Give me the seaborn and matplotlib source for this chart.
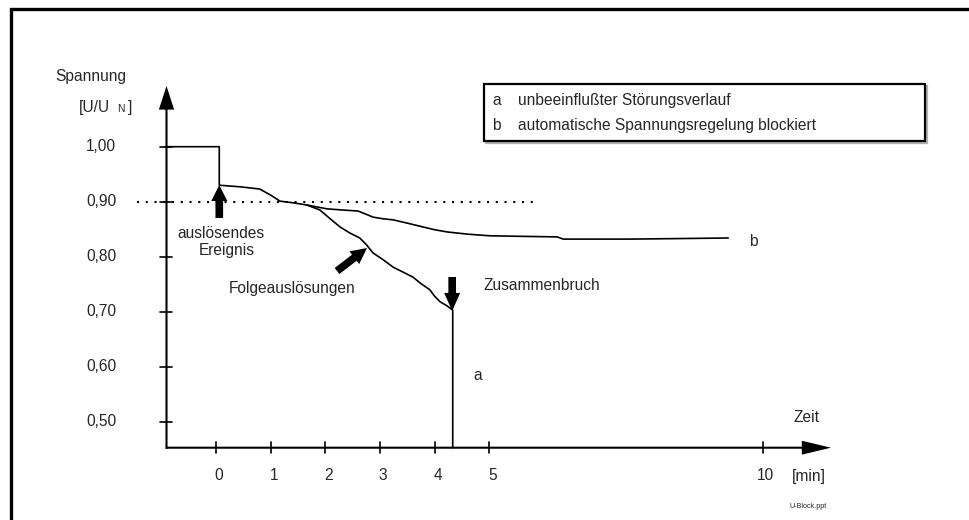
import numpy as np
import pandas as pd
import seaborn as sns
import matplotlib.pyplot as plt
from matplotlib.lines import Line2D
from matplotlib.patches import Rectangle

# ---------------- data ----------------
time_ticks = [0, 1, 2, 3, 4, 5, 10]
time_tick_labels = ["0", "1", "2", "3", "4", "5", "10"]
volt_ticks = [1.00, 0.90, 0.80, 0.70, 0.60, 0.50]
volt_tick_labels = ["1,00", "0,90", "0,80", "0,70", "0,60", "0,50"]

# common part of both courses (before they split)
common_t = [-0.915, 0.06, 0.06, 0.45, 0.80, 1.00, 1.17, 1.41, 1.66]
common_v = [1.000, 1.000, 0.930, 0.927, 0.923, 0.912, 0.901, 0.898, 0.894]

# a: unbeeinflusster Stoerungsverlauf (ends in voltage collapse)
a_t = [1.66, 1.90, 2.10, 2.27, 2.45, 2.63, 2.75, 2.87, 3.05, 3.24, 3.42,
       3.60, 3.75, 3.91, 4.00, 4.10, 4.22, 4.33, 4.33]
a_v = [0.894, 0.885, 0.868, 0.854, 0.843, 0.834, 0.822, 0.807, 0.795, 0.781,
       0.772, 0.763, 0.751, 0.740, 0.728, 0.718, 0.711, 0.703, 0.4527]

# b: automatische Spannungsregelung blockiert
b_t = [1.66, 2.03, 2.30, 2.60, 2.75, 2.87, 3.05, 3.24, 3.50, 3.79, 4.00,
       4.23, 4.60, 5.01, 5.60, 6.24, 6.35, 7.00, 7.57, 8.50, 9.37]
b_v = [0.894, 0.887, 0.885, 0.883, 0.877, 0.872, 0.869, 0.867, 0.861, 0.854,
       0.849, 0.845, 0.841, 0.838, 0.837, 0.836, 0.832, 0.832, 0.832, 0.833, 0.834]

threshold_v = 0.90
threshold_t = [-1.445, 5.835]
event_t = 0.06
collapse_t = 4.33

# ---------------- style ----------------
sns.set_style("white")
plt.rcParams['font.family'] = ['Liberation Sans', 'DejaVu Sans']

fig = plt.figure(figsize=(9.7, 5.2), dpi=100)
ax = fig.add_axes([0, 0, 1, 1])

# pixel <-> data mapping (layout only)
X0, XS = 216.0, 54.67   # pixel of t = 0, pixels per minute
Y0, YS = 146.7, 550.0   # pixel of U = 1.00, pixels per unit
def px(x):
    return (x - X0) / XS
def py(y):
    return 1 - (y - Y0) / YS

ax.set_xlim(px(0), px(970))
ax.set_ylim(py(520), py(0))
ax.set_axis_off()

FS = 11.2
K = 'black'
t_min = px(166.5)
v_min = py(447.7)

# frame
ax.plot([px(11), px(11), px(972)], [py(522), py(9), py(9)], color=K, lw=2.4,
        solid_joinstyle='miter', clip_on=False)

# axes with arrows
ax.annotate("", xy=(px(831), v_min), xytext=(t_min - 0.01, v_min),
            arrowprops=dict(width=1.5, headwidth=10, headlength=21,
                            facecolor=K, edgecolor=K, lw=0, shrink=0))
ax.annotate("", xy=(t_min, py(86)), xytext=(t_min, v_min - 0.002),
            arrowprops=dict(width=1.5, headwidth=11, headlength=17,
                            facecolor=K, edgecolor=K, lw=0, shrink=0))

# ticks
for t, lab in zip(time_ticks, time_tick_labels):
    ax.plot([t, t], [py(442), py(453)], color=K, lw=1.2)
    ax.text(t + px(219) - px(216), py(475), lab, ha='center', va='center', fontsize=FS)
for v, lab in zip(volt_ticks, volt_tick_labels):
    ax.plot([px(160), px(172)], [v, v], color=K, lw=1.2)
    ax.text(px(116), v, lab, ha='right', va='center', fontsize=FS)

# axis titles
ax.text(px(55), py(76), "Spannung", ha='left', va='center', fontsize=FS)
ax.text(px(79), py(107), "[U/U", ha='left', va='center', fontsize=FS)
ax.text(px(117), py(109), "N", ha='left', va='center', fontsize=7.5)
ax.text(px(128), py(107), "]", ha='left', va='center', fontsize=FS)
ax.text(px(806), py(417), "Zeit", ha='center', va='center', fontsize=FS)
ax.text(px(809), py(476), "[min]", ha='center', va='center', fontsize=FS)
ax.text(px(808), py(507), "U-Block.ppt", ha='center', va='center', fontsize=5.2)

# threshold dotted line
sns.lineplot(x=threshold_t, y=[threshold_v, threshold_v], ax=ax, color=K,
             lw=1.5, linestyle=(0, (1, 3.2)), estimator=None, sort=False)

# curves
sns.lineplot(x=common_t, y=common_v, ax=ax, color=K, lw=1.2, estimator=None, sort=False)
sns.lineplot(x=a_t, y=a_v, ax=ax, color=K, lw=1.2, estimator=None, sort=False)
sns.lineplot(x=b_t, y=b_v, ax=ax, color=K, lw=1.2, estimator=None, sort=False)

# annotation arrows
arr = dict(width=5.5, headwidth=11.5, headlength=11.5, facecolor=K, edgecolor=K, lw=0, shrink=0)
ax.annotate("", xy=(event_t, py(185)), xytext=(event_t, py(218)), arrowprops=arr)
ax.annotate("", xy=(px(367), py(248)), xytext=(px(337), py(271)), arrowprops=arr)
ax.annotate("", xy=(collapse_t - 0.01, py(311)), xytext=(collapse_t - 0.01, py(277)),
            arrowprops=dict(arr, headlength=13))

# labels
ax.text(px(221), py(234), "auslösendes", ha='center', va='center', fontsize=FS)
ax.text(px(227), py(250), "Ereignis", ha='center', va='center', fontsize=FS)
ax.text(px(292), py(288), "Folgeauslösungen", ha='center', va='center', fontsize=FS)
ax.text(px(483), py(286), "Zusammenbruch", ha='left', va='center', fontsize=FS)
ax.text(px(753), py(242), "b", ha='center', va='center', fontsize=FS)
ax.text(px(478), py(375), "a", ha='center', va='center', fontsize=FS)

# legend box
ax.add_patch(Rectangle((px(486), py(143)), px(927) - px(486), py(86) - py(143),
                       facecolor='none', edgecolor='#b0b0b0', lw=1.6))
ax.add_patch(Rectangle((px(484), py(141)), px(925) - px(484), py(84) - py(141),
                       facecolor='white', edgecolor=K, lw=1.6))
ax.text(px(492), py(101), "a", ha='left', va='center', fontsize=FS)
ax.text(px(518), py(101), "unbeeinflußter Störungsverlauf", ha='left', va='center', fontsize=FS)
ax.text(px(492), py(125), "b", ha='left', va='center', fontsize=FS)
ax.text(px(518), py(125), "automatische Spannungsregelung blockiert", ha='left', va='center', fontsize=FS)

fig.savefig("out.png", dpi=100, facecolor='white')
